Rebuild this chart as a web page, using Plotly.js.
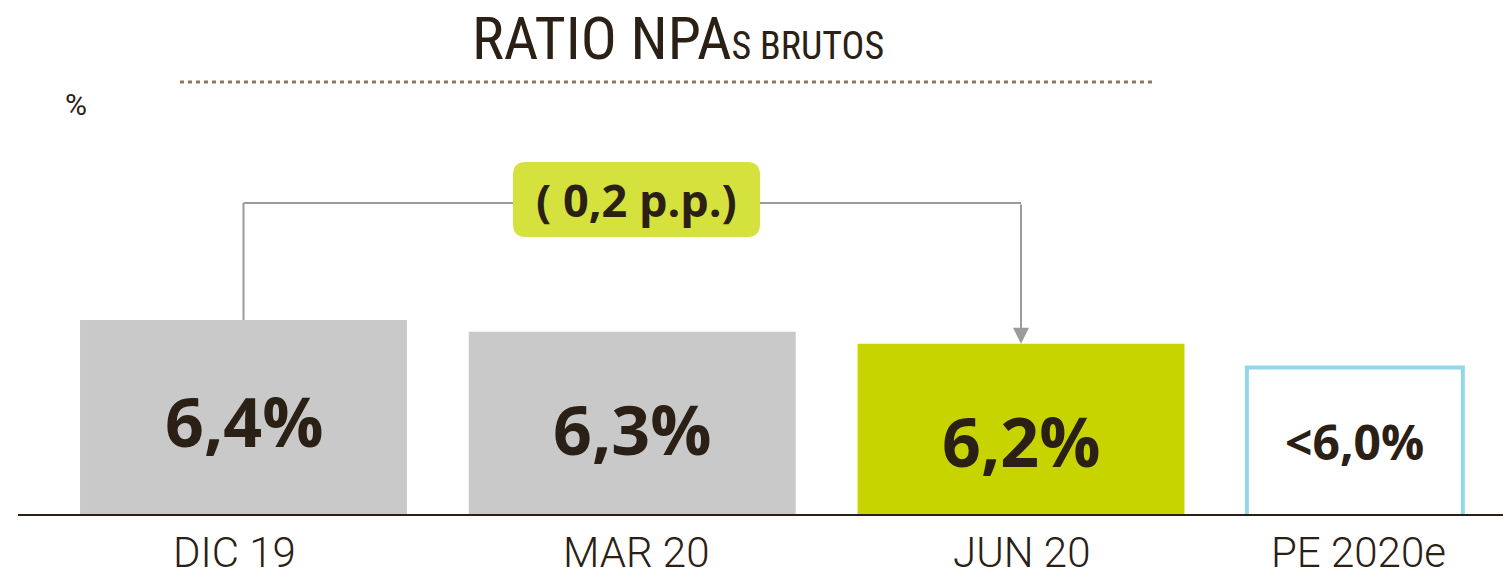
<!DOCTYPE html>
<html>
<head>
<meta charset="utf-8">
<script src="https://cdn.plot.ly/plotly-3.0.1.min.js"></script>
<style>html,body{margin:0;padding:0;background:#fff;}#chart{width:1503px;height:577px;}</style>
</head>
<body>
<div id="chart"></div>
<script>
// ---- data ----
const categories = ['DIC 19', 'MAR 20', 'JUN 20', 'PE 2020e'];
const ratioValues = [6.4, 6.3, 6.2, 6.0];
const valueLabels = ['6,4%', '6,3%', '6,2%', '<6,0%'];
const changeLabel = '( 0,2 p.p.)';
const unitLabel = '%';
const titleMain = 'RATIO NPA';
const titleSub = 'S BRUTOS';

// ---- layout geometry ----
const L = 18, T = 100, W = 1485, H = 414;
const px = v => (v - L) / W;
const py = v => (T + H - v) / H;
const Y0 = 4.764, PXU = 118.6;            // y-axis start and px per unit
const yAt = p => Y0 + (T + H - p) / PXU;  // pixel row -> data y
const dark = '#2b2015';

function roundRect(x0, y0, x1, y1, r) {
  const a = px(x0), b = px(x1), c = py(y0), d = py(y1);
  const rx = r / W, ry = r / H;
  return `M${a + rx},${c} L${b - rx},${c} Q${b},${c} ${b},${c - ry} L${b},${d + ry} Q${b},${d} ${b - rx},${d} ` +
         `L${a + rx},${d} Q${a},${d} ${a},${d + ry} L${a},${c - ry} Q${a},${c} ${a + rx},${c} Z`;
}

const traces = [
  {
    type: 'bar',
    x: categories.slice(0, 3),
    y: ratioValues.slice(0, 3),
    width: 0.841,
    marker: { color: ['#c9c9c9', '#c9c9c9', '#c8d400'], line: { width: 0 } },
    hoverinfo: 'skip'
  },
  {
    type: 'bar',
    x: categories.slice(3),
    y: ratioValues.slice(3),
    width: 0.5556,
    offset: -0.419,
    marker: { color: 'rgba(255,255,255,0)', line: { color: '#92d6eb', width: 4 } },
    hoverinfo: 'skip'
  }
];

const labelRows = [420, 428, 440, 441];
const labelSizes = [68, 68, 68, 48];
const labelShift = [0, 0, 0, -0.141];
const tickShift = [-0.022, 0.01, 0, -0.131];
const bracketY = yAt(203);

const annotations = categories.map((c, i) => ({
  x: i + labelShift[i], xref: 'x', y: yAt(labelRows[i]), yref: 'y',
  text: valueLabels[i], showarrow: false, xanchor: 'center', yanchor: 'middle',
  font: { family: 'Open Sans, sans-serif', size: labelSizes[i], weight: 700, color: dark }
}));

categories.forEach((c, i) => annotations.push({
  x: i + tickShift[i], xref: 'x', y: py(552), yref: 'paper',
  text: c, showarrow: false, xanchor: 'center', yanchor: 'middle',
  font: { family: 'Roboto, sans-serif', size: 42, weight: 300, color: dark }
}));

annotations.push({
  x: categories[2], xref: 'x', y: ratioValues[2], yref: 'y',
  ax: categories[2], axref: 'x', ay: bracketY, ayref: 'y',
  text: '', showarrow: true, arrowhead: 2, arrowsize: 1.6, arrowwidth: 2, arrowcolor: '#9b9b9b', standoff: 0
});
annotations.push({
  x: px(636.5), xref: 'paper', y: py(199.5), yref: 'paper',
  text: changeLabel, showarrow: false, xanchor: 'center', yanchor: 'middle',
  font: { family: 'Open Sans, sans-serif', size: 45, weight: 700, color: dark }
});
annotations.push({
  x: px(76), xref: 'paper', y: py(104), yref: 'paper',
  text: unitLabel, showarrow: false, xanchor: 'center', yanchor: 'middle',
  font: { family: 'Roboto, sans-serif', size: 30, weight: 400, color: dark }
});

const shapes = [
  { type: 'line', xref: 'paper', yref: 'paper', x0: px(180), x1: px(1155), y0: py(82), y1: py(82),
    line: { color: '#8b7b5d', width: 3, dash: '4px,4px' } },
  { type: 'line', xref: 'x', yref: 'y', x0: 0, x1: 0, y0: ratioValues[0], y1: bracketY,
    line: { color: '#9b9b9b', width: 2 } },
  { type: 'line', xref: 'x', yref: 'y', x0: 0, x1: 2, y0: bracketY, y1: bracketY,
    line: { color: '#9b9b9b', width: 2 } },
  { type: 'path', xref: 'paper', yref: 'paper', path: roundRect(513, 162, 760, 237, 13),
    fillcolor: '#d5e23e', line: { width: 0 } }
];

const layout = {
  width: 1503, height: 577,
  margin: { l: L, r: 1503 - L - W, t: T, b: 577 - T - H },
  paper_bgcolor: '#ffffff', plot_bgcolor: '#ffffff',
  showlegend: false,
  barmode: 'overlay',
  title: {
    text: titleMain + '<span style="font-size:38px">' + titleSub + '</span>',
    font: { family: 'Roboto Condensed, Roboto, sans-serif', size: 60, color: dark },
    x: 678 / 1503, xanchor: 'center', xref: 'container',
    y: 1 - 38 / 577, yanchor: 'middle', yref: 'container'
  },
  xaxis: {
    type: 'category', categoryorder: 'array', categoryarray: categories,
    range: [(L - 243.5) / 388.75, (L + W - 243.5) / 388.75],
    showline: true, linecolor: dark, linewidth: 2, ticks: '', showticklabels: false,
    showgrid: false, zeroline: false, fixedrange: true
  },
  yaxis: {
    range: [Y0, Y0 + H / PXU], visible: false, showgrid: false, zeroline: false, fixedrange: true
  },
  shapes: shapes,
  annotations: annotations
};

Plotly.newPlot('chart', traces, layout, { displayModeBar: false, staticPlot: true });
</script>
</body>
</html>
